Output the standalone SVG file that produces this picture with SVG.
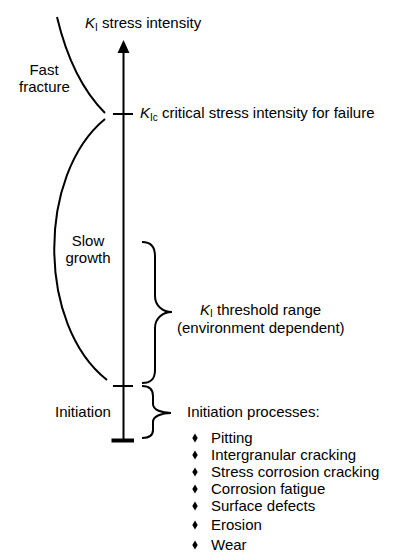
<svg xmlns="http://www.w3.org/2000/svg" width="405" height="558" viewBox="0 0 405 558">
<style>
text{font-family:"Liberation Sans",Arial,Helvetica,sans-serif;font-size:15px;fill:#000}
.it{font-style:italic}
.sub{font-size:10px}
.ln{fill:none;stroke:#000;stroke-width:2}
.mid{text-anchor:middle}
</style>
<defs>
<polygon id="dia" points="0,-4.5 2.7,0 0,4.5 -2.7,0" fill="#000"/>
</defs>
<rect width="405" height="558" fill="#fff"/>
<g id="connectors">
<line class="ln" x1="123.5" y1="52" x2="123.5" y2="441"/>
<polygon points="123.5,40 117.5,53 129.5,53" fill="#000"/>
<line class="ln" x1="113" y1="114" x2="133" y2="114"/>
<line class="ln" x1="113" y1="386" x2="133" y2="386"/>
<line x1="111.5" y1="440.5" x2="134" y2="440.5" stroke="#000" stroke-width="4"/>
<path class="ln" d="M57,17 Q72,80 105,113"/>
<path class="ln" d="M105,119 C37,175 37,325 107,380"/>
<path class="ln" d="M142,242 C150,242 155,246 155,256 L155,296 C155,306 163,312 172,312 C163,312 155,318 155,328 L155,370 C155,380 150,383 142,383"/>
<path class="ln" d="M142,386 C149,386 153,389 153,396 L153,404 C153,410 162,413 171,413 C162,413 153,416 153,422 L153,430 C153,436 149,438 142,438"/>
</g>
<g id="axis-label"><text x="85" y="28"><tspan class="it">K</tspan><tspan class="sub" dy="3">I</tspan><tspan dy="-3"> stress intensity</tspan></text></g>
<g id="kic-label"><text x="140" y="118"><tspan class="it">K</tspan><tspan class="sub" dy="3">Ic</tspan><tspan dy="-3"> critical stress intensity for failure</tspan></text></g>
<g id="fast-fracture"><text class="mid" x="44" y="75">Fast</text><text class="mid" x="44.5" y="92">fracture</text></g>
<g id="slow-growth"><text class="mid" x="88" y="246">Slow</text><text class="mid" x="88" y="263">growth</text></g>
<g id="threshold"><text x="200" y="315"><tspan class="it">K</tspan><tspan class="sub" dy="2">I</tspan><tspan dy="-2"> threshold range</tspan></text><text x="177" y="333">(environment dependent)</text></g>
<g id="initiation"><text x="55" y="417">Initiation</text></g>
<g id="initiation-processes">
<text x="187" y="417">Initiation processes:</text>
<use href="#dia" x="195" y="438"/><text x="211" y="443">Pitting</text>
<use href="#dia" x="195" y="455"/><text x="211" y="460">Intergranular cracking</text>
<use href="#dia" x="195" y="472"/><text x="211" y="477">Stress corrosion cracking</text>
<use href="#dia" x="195" y="489"/><text x="211" y="494">Corrosion fatigue</text>
<use href="#dia" x="195" y="506"/><text x="211" y="511">Surface defects</text>
<use href="#dia" x="195" y="525"/><text x="211" y="530">Erosion</text>
<use href="#dia" x="195" y="545"/><text x="211" y="550">Wear</text>
</g>
</svg>
